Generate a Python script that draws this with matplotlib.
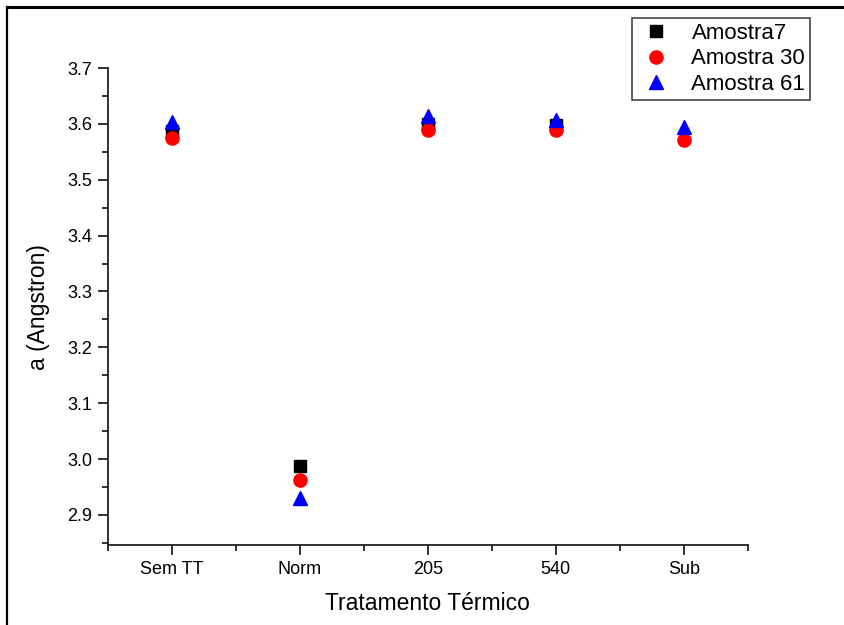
import numpy as np
import matplotlib
matplotlib.use("Agg")
import matplotlib.pyplot as plt
from matplotlib.lines import Line2D
from matplotlib.ticker import MultipleLocator, FixedLocator, FormatStrFormatter

plt.rcParams["font.family"] = ["Liberation Sans", "DejaVu Sans"]

tratamentos = ["Sem TT", "Norm", "205", "540", "Sub"]
amostra7 = [3.588, 2.987, 3.600, 3.598, np.nan]
amostra30 = [3.575, 2.962, 3.590, 3.590, 3.571]
amostra61 = [3.603, 2.930, 3.614, 3.607, 3.594]

fig = plt.figure(figsize=(8.44, 6.25), dpi=100)
ax = fig.add_axes([0.128, 0.128, 0.758, 0.763])

x = np.arange(len(tratamentos))
ax.plot(x, amostra7, ls="none", marker="s", ms=8, color="black", label="Amostra7")
ax.plot(x, amostra30, ls="none", marker="o", ms=9.5, color="red", label="Amostra 30")
ax.plot(x, amostra61, ls="none", marker="^", ms=10.5, color="blue", label="Amostra 61")

ax.set_xlim(-0.5, 4.5)
ax.set_ylim(2.846, 3.7)
ax.set_xticks(x)
ax.set_xticklabels(tratamentos)
ax.xaxis.set_minor_locator(FixedLocator(np.arange(-0.5, 4.6, 1.0)))
ax.yaxis.set_major_locator(MultipleLocator(0.1))
ax.yaxis.set_minor_locator(MultipleLocator(0.05))
ax.yaxis.set_major_formatter(FormatStrFormatter("%.1f"))

for side in ("top", "right"):
    ax.spines[side].set_visible(False)
for side in ("left", "bottom"):
    ax.spines[side].set_linewidth(1.3)
    ax.spines[side].set_color("#222222")

ax.tick_params(which="major", direction="out", length=7.5, width=1.3,
               labelsize=13, colors="#222222", pad=4)
ax.tick_params(which="minor", direction="out", length=4.5, width=1.3,
               colors="#222222")
ax.tick_params(axis="both", labelcolor="black")

ax.set_xlabel("Tratamento Térmico", fontsize=16.5, labelpad=10)
ax.set_ylabel("a (Angstron)", fontsize=16.5, labelpad=12)

leg = ax.legend(loc="upper left", bbox_to_anchor=(0.749, 0.971),
                bbox_transform=fig.transFigure, fontsize=16, frameon=True,
                fancybox=False, edgecolor="#444444", framealpha=1,
                borderpad=0.22, labelspacing=0.2, handletextpad=0.75,
                handlelength=1.7, borderaxespad=0)
leg.get_frame().set_linewidth(1.2)

# page border along top and left edge
fig.add_artist(Line2D([7 / 844, 1.0], [1 - 7 / 625, 1 - 7 / 625],
                      transform=fig.transFigure, color="black", lw=2.2))
fig.add_artist(Line2D([7 / 844, 7 / 844], [0.0, 1 - 7 / 625],
                      transform=fig.transFigure, color="black", lw=1.6))

fig.savefig("out.png", dpi=100)
